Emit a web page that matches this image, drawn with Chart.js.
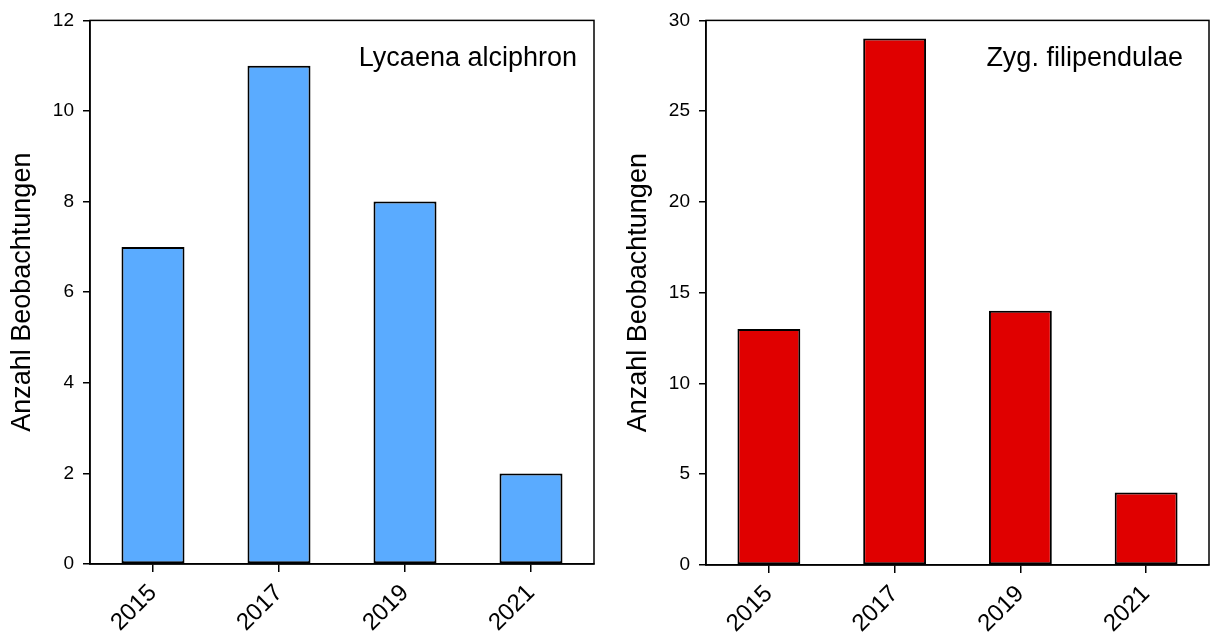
<!DOCTYPE html>
<html>
<head>
<meta charset="utf-8">
<script src="https://cdn.jsdelivr.net/npm/chart.js@4/dist/chart.umd.min.js"></script>
<style>
    html, body { margin: 0; padding: 0; background: #fff; }
    .panel { position: absolute; top: 0; height: 634px; }
    #left { left: 0; width: 600px; }
    #right { left: 610px; width: 604px; }
</style>
</head>
<body>
<div class="panel" id="left"><canvas id="chart-left"></canvas></div>
<div class="panel" id="right"><canvas id="chart-right"></canvas></div>
<script>
// Data
const years = ['2015', '2017', '2019', '2021'];
const alciphronCounts = [7, 11, 8, 2];
const filipendulaeCounts = [13, 29, 14, 4];
const alciphronTicks = { max: 12, step: 2 };
const filipendulaeTicks = { max: 30, step: 5 };

const FONT = "'Liberation Sans', Arial, sans-serif";

// Draws the box round the plot area and the species name inside it
const framePlugin = {
    id: 'frame',
    afterDraw(chart, args, opts) {
        const { ctx, chartArea: a } = chart;
        ctx.save();
        ctx.strokeStyle = '#000';
        ctx.lineWidth = 1.5;
        ctx.strokeRect(a.left, a.top, a.right - a.left, a.bottom - a.top);
        ctx.fillStyle = '#000';
        ctx.font = '27px ' + FONT;
        ctx.textAlign = 'right';
        ctx.textBaseline = 'alphabetic';
        ctx.fillText(opts.label, a.right - opts.inset, a.top + 46);
        ctx.restore();
    }
};

function makeChart(id, values, color, ticks, label, yWidth, titlePad, inset, bottomH, padRight) {
    const ctx = document.getElementById(id).getContext('2d');
    return new Chart(ctx, {
        type: 'bar',
        data: {
            labels: years,
            datasets: [{
                data: values,
                backgroundColor: color,
                borderColor: '#000',
                borderWidth: 2,
                borderSkipped: false,
                categoryPercentage: 1,
                barPercentage: 0.5
            }]
        },
        options: {
            responsive: true,
            maintainAspectRatio: false,
            animation: false,
            layout: { padding: { top: 19, right: padRight, left: 0, bottom: 0 } },
            plugins: {
                legend: { display: false },
                tooltip: { enabled: false },
                frame: { label: label, inset: inset }
            },
            scales: {
                x: {
                    offset: true,
                    grid: {
                        offset: false,
                        drawOnChartArea: false,
                        drawTicks: true,
                        tickLength: 8,
                        color: '#000',
                        lineWidth: 1.5
                    },
                    border: { color: '#000', width: 1.5 },
                    ticks: {
                        color: '#000',
                        font: { family: FONT, size: 24 },
                        minRotation: 45,
                        maxRotation: 45,
                        padding: 7
                    },
                    afterFit(scale) { scale.height = bottomH; }
                },
                y: {
                    min: 0,
                    max: ticks.max,
                    grid: {
                        drawOnChartArea: false,
                        drawTicks: true,
                        tickLength: 7,
                        color: '#000',
                        lineWidth: 1.5
                    },
                    border: { color: '#000', width: 1.5 },
                    ticks: {
                        stepSize: ticks.step,
                        color: '#000',
                        font: { family: FONT, size: 19 },
                        padding: 9
                    },
                    title: {
                        display: true,
                        text: 'Anzahl Beobachtungen',
                        color: '#000',
                        font: { family: FONT, size: 27 },
                        padding: { top: titlePad, bottom: 0 }
                    },
                    afterFit(scale) { scale.width = yWidth; }
                }
            }
        },
        plugins: [framePlugin]
    });
}

makeChart('chart-left', alciphronCounts, '#5aabff', alciphronTicks, 'Lycaena alciphron', 90, 6, 17, 70, 6);
makeChart('chart-right', filipendulaeCounts, '#e00000', filipendulaeTicks, 'Zyg. filipendulae', 96, 12, 26, 69, 5);
</script>
</body>
</html>
